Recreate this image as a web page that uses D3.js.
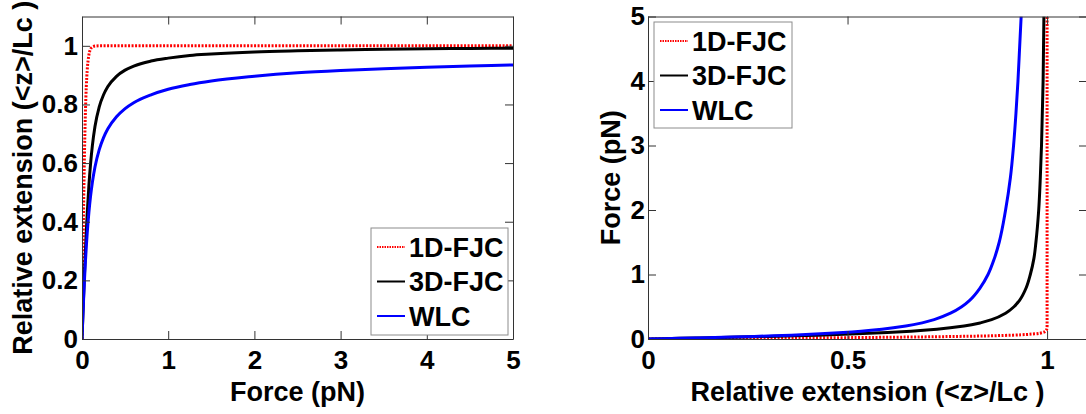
<!DOCTYPE html>
<html>
<head>
<meta charset="utf-8">
<script src="https://cdn.jsdelivr.net/npm/d3@7"></script>
<style>
  body { margin: 0; background: #fff; }
  svg text { font-family: "Liberation Sans", Arial, Helvetica, sans-serif; font-weight: bold; fill: #000; }
</style>
</head>
<body>
<svg id="chart" width="1086" height="414"></svg>
<script>
const force = [0, 0.005, 0.01, 0.015, 0.02, 0.03, 0.04, 0.05, 0.06, 0.08, 0.1, 0.12, 0.15, 0.2, 0.25,
  0.3, 0.4, 0.5, 0.6, 0.8, 1, 1.25, 1.5, 2, 2.5, 3, 3.5, 4, 4.5, 5];

// relative extension <z>/Lc for each model
const fjc1d = [0, 0.129, 0.254, 0.371, 0.478, 0.653, 0.778, 0.862, 0.915, 0.969, 0.989, 0.996, 0.999, 1, 1,
  1, 1, 1, 1, 1, 1, 1, 1, 1, 1, 1, 1, 1, 1, 1];
const fjc3d = [0, 0.04, 0.0797, 0.119, 0.158, 0.232, 0.302, 0.366, 0.425, 0.523, 0.6, 0.659, 0.724, 0.792, 0.833,
  0.861, 0.896, 0.917, 0.931, 0.948, 0.958, 0.967, 0.972, 0.979, 0.983, 0.986, 0.988, 0.99, 0.991, 0.992];
const wlc = [0, 0.039, 0.0766, 0.112, 0.146, 0.209, 0.266, 0.315, 0.359, 0.432, 0.489, 0.534, 0.586, 0.646, 0.687,
  0.717, 0.758, 0.786, 0.806, 0.833, 0.852, 0.868, 0.88, 0.896, 0.908, 0.916, 0.922, 0.927, 0.931, 0.935];

const seriesNames = ['1D-FJC', '3D-FJC', 'WLC'];
const seriesColors = ['#ff0000', '#000000', '#0000ff'];
const seriesValues = [fjc1d, fjc3d, wlc];

const leftXTicks = [0, 1, 2, 3, 4, 5];
const leftYTicks = [0, 0.2, 0.4, 0.6, 0.8, 1];
const rightXTicks = [0, 0.5, 1];
const rightYTicks = [0, 1, 2, 3, 4, 5];

const svg = d3.select('#chart');

function drawPanel(opt) {
  const g = svg.append('g');
  const x = d3.scaleLinear().domain(opt.xDomain).range([opt.left, opt.right]);
  const y = d3.scaleLinear().domain(opt.yDomain).range([opt.bottom, opt.top]);

  // clip so curves stay inside the box
  const clipId = 'clip' + opt.id;
  svg.append('clipPath').attr('id', clipId).append('rect')
    .attr('x', opt.left).attr('y', opt.top)
    .attr('width', opt.right - opt.left).attr('height', opt.bottom - opt.top);

  const lines = g.append('g').attr('clip-path', `url(#${clipId})`);
  seriesValues.forEach((vals, i) => {
    const pts = force.map((f, j) => opt.swap ? [vals[j], f] : [f, vals[j]]);
    const line = d3.line()
      .x(d => x(d[0])).y(d => y(d[1]))
      .curve(opt.swap ? d3.curveMonotoneY : d3.curveMonotoneX);
    lines.append('path')
      .attr('d', line(pts))
      .attr('fill', 'none')
      .attr('stroke', seriesColors[i])
      .attr('stroke-width', 3)
      .attr('stroke-dasharray', i === 0 ? '2,1.5' : null);
  });

  // axes, ticks pointing inward on all four sides
  const axes = [
    { ax: d3.axisBottom(x).tickValues(opt.xTicks).tickFormat(d3.format('')).tickPadding(12), tr: `translate(0,${opt.bottom})` },
    { ax: d3.axisTop(x).tickValues(opt.xTicks).tickFormat(''), tr: `translate(0,${opt.top})` },
    { ax: d3.axisLeft(y).tickValues(opt.yTicks).tickFormat(d3.format('')).tickPadding(opt.yPad), tr: `translate(${opt.left},0)` },
    { ax: d3.axisRight(y).tickValues(opt.yTicks).tickFormat(''), tr: `translate(${opt.right},0)` }
  ];
  axes.forEach(a => {
    const ag = g.append('g').attr('transform', a.tr)
      .call(a.ax.tickSizeInner(-8).tickSizeOuter(0));
    ag.selectAll('path, line').attr('stroke', '#333').attr('stroke-width', 1);
    ag.selectAll('text').style('font-size', '26px').attr('fill', '#000');
  });

  // axis titles
  g.append('text')
    .attr('x', (opt.left + opt.right) / 2).attr('y', 401)
    .attr('text-anchor', 'middle').style('font-size', '27px')
    .text(opt.xTitle);
  g.append('text')
    .attr('transform', `translate(${opt.yTitleX},${(opt.top + opt.bottom) / 2}) rotate(-90)`)
    .attr('text-anchor', 'middle').style('font-size', '27px')
    .text(opt.yTitle);

  // legend
  const lg = g.append('g');
  lg.append('rect')
    .attr('x', opt.legend.x).attr('y', opt.legend.y)
    .attr('width', opt.legend.w).attr('height', opt.legend.h)
    .attr('fill', '#fff').attr('stroke', '#8c8c8c').attr('stroke-width', 1);
  seriesNames.forEach((name, i) => {
    const cy = opt.legend.y + 19 + i * 34.5;
    lg.append('line')
      .attr('x1', opt.legend.x + 6).attr('x2', opt.legend.x + 34)
      .attr('y1', cy).attr('y2', cy)
      .attr('stroke', seriesColors[i]).attr('stroke-width', 2)
      .attr('stroke-dasharray', i === 0 ? '1.5,1' : null);
    lg.append('text')
      .attr('x', opt.legend.x + 38).attr('y', cy + 9.5)
      .style('font-size', '27px')
      .text(name);
  });
}

drawPanel({
  id: 'L', left: 82, right: 513, top: 16.5, bottom: 339,
  xDomain: [0, 5], yDomain: [0, 1.1], swap: false,
  xTicks: leftXTicks, yTicks: leftYTicks, yPad: 4,
  xTitle: 'Force (pN)', yTitle: 'Relative extension (<z>/Lc )', yTitleX: 32,
  legend: { x: 371, y: 228, w: 137, h: 107 }
});

drawPanel({
  id: 'R', left: 648, right: 1087, top: 16.5, bottom: 339,
  xDomain: [0, 1.1], yDomain: [0, 5], swap: true,
  xTicks: rightXTicks, yTicks: rightYTicks, yPad: 3,
  xTitle: 'Relative extension (<z>/Lc )', yTitle: 'Force (pN)', yTitleX: 620,
  legend: { x: 654, y: 22, w: 138, h: 106 }
});
</script>
</body>
</html>
